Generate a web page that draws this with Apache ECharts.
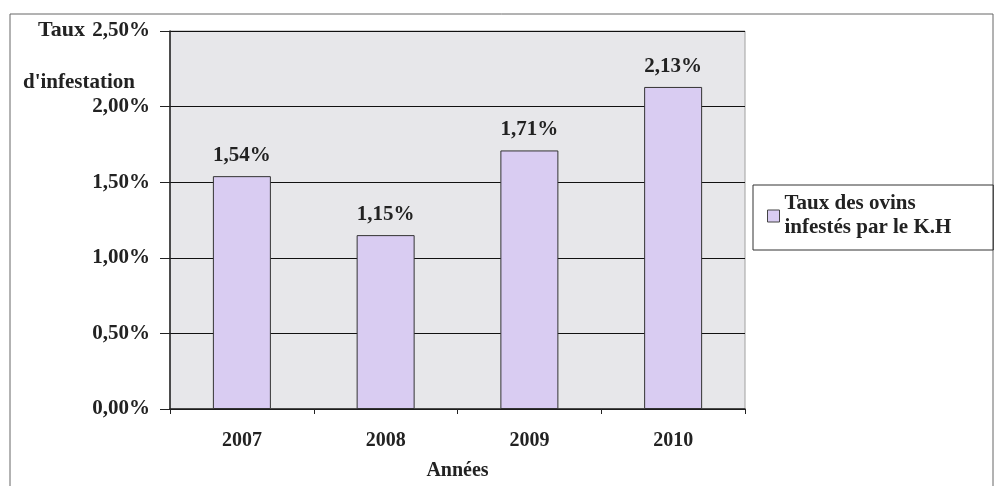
<!DOCTYPE html>
<html><head><meta charset="utf-8">
<script src="https://cdn.jsdelivr.net/npm/echarts@6/dist/echarts.min.js"></script>
<style>html,body{margin:0;padding:0;background:#fff}#c{width:995px;height:486px}</style>
</head><body><div id="c"></div>
<script>
const categories = ['2007', '2008', '2009', '2010'];
const values = [1.54, 1.15, 1.71, 2.13];
const seriesName = 'Taux des ovins\ninfestés par le K.H';
const yTitle1 = 'Taux';
const yTitle2 = "d'infestation";
const xTitle = 'Années';

const FONT = '"Liberation Serif", "DejaVu Serif", serif';
const FS = 21;
const fmt = v => v.toFixed(2).replace('.', ',') + '%';

const chart = echarts.init(document.getElementById('c'));
chart.setOption({
  animation: false,
  backgroundColor: '#ffffff',
  grid: { left: 170, top: 31, width: 575, height: 378, show: true,
          backgroundColor: '#e7e7ea', borderColor: '#a0a0a0', borderWidth: 1 },
  xAxis: {
    type: 'category', data: categories,
    name: xTitle, nameLocation: 'middle', nameGap: 52,
    nameTextStyle: { fontFamily: FONT, fontWeight: 'bold', fontSize: FS - 1, color: '#222' },
    axisLine: { lineStyle: { color: '#222', width: 1.5 } },
    axisTick: { show: true, length: 5, lineStyle: { color: '#222' } },
    axisLabel: { fontFamily: FONT, fontWeight: 'bold', fontSize: FS - 1, color: '#222', margin: 22 }
  },
  yAxis: {
    type: 'value', min: 0, max: 2.5, interval: 0.5,
    axisLine: { show: true, lineStyle: { color: '#222', width: 1.5 } },
    axisTick: { show: true, length: 10, lineStyle: { color: '#222' } },
    axisLabel: { fontFamily: FONT, fontWeight: 'bold', fontSize: FS, color: '#222', margin: 20, formatter: fmt },
    splitLine: { show: true, lineStyle: { color: '#111', width: 1.2 } }
  },
  legend: {
    left: 753, top: 185, orient: 'vertical',
    borderColor: '#333', borderWidth: 1, padding: [7, 42, 10, 14],
    itemWidth: 12, itemHeight: 12, itemGap: 6,
    textStyle: { fontFamily: FONT, fontWeight: 'bold', fontSize: FS, color: '#222', lineHeight: 24 },
    data: [{ name: seriesName, icon: 'rect', itemStyle: { borderColor: '#444', borderWidth: 1 } }]
  },
  graphic: [
    { type: 'rect', shape: { x: 10, y: 14, width: 983, height: 480 },
      style: { fill: 'none', stroke: '#666', lineWidth: 1 }, silent: true, z: -10 },
    { type: 'text', left: 38, top: 19,
      style: { text: yTitle1, font: 'bold 22px ' + FONT, fill: '#222' } },
    { type: 'text', left: 23, top: 72,
      style: { text: yTitle2, font: 'bold ' + FS + 'px ' + FONT, fill: '#222' } }
  ],
  series: [{
    name: seriesName, type: 'bar', data: values, barWidth: 58,
    itemStyle: { color: '#d9ccf2', borderColor: '#333', borderWidth: 1 },
    label: { show: true, position: 'top', distance: 10, formatter: p => fmt(p.value),
             fontFamily: FONT, fontWeight: 'bold', fontSize: FS, color: '#222' }
  }]
});
</script></body></html>
